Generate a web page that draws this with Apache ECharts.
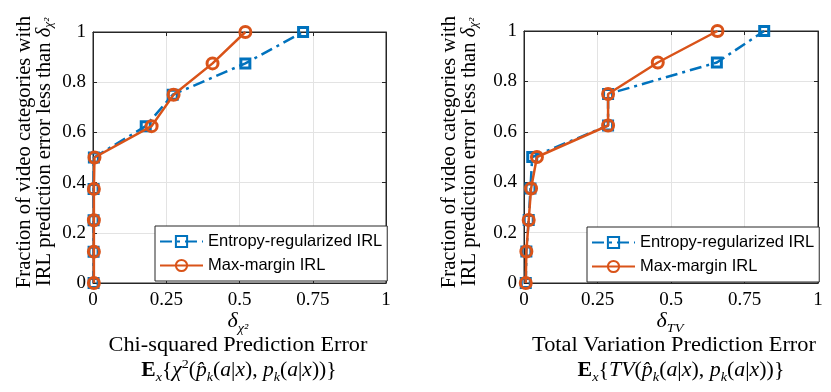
<!DOCTYPE html>
<html>
<head>
<meta charset="utf-8">
<script src="https://cdn.jsdelivr.net/npm/echarts@6/dist/echarts.min.js"></script>
<style>
  html, body { margin: 0; padding: 0; background: #fff; }
  #main { width: 831px; height: 392px; }
</style>
</head>
<body>
<div id="main"></div>
<script>
// fraction levels (y) shared by both panels
const fractions = [0, 0.125, 0.25, 0.375, 0.5, 0.625, 0.75, 0.875, 1];
// chi-squared panel: error thresholds (x)
const chiEntropy = [0.002, 0.002, 0.002, 0.002, 0.003, 0.18, 0.272, 0.52, 0.717];
const chiMargin  = [0.003, 0.003, 0.003, 0.003, 0.005, 0.2, 0.275, 0.408, 0.52];
// total variation panel
const tvEntropy = [0.006, 0.008, 0.016, 0.022, 0.028, 0.286, 0.286, 0.656, 0.817];
const tvMargin  = [0.006, 0.008, 0.016, 0.024, 0.044, 0.286, 0.286, 0.455, 0.658];
// ticks
const xTicks = [0, 0.25, 0.5, 0.75, 1];
const yTicks = [0, 0.2, 0.4, 0.6, 0.8, 1];
const seriesNames = ['Entropy-regularized IRL', 'Max-margin IRL'];

const BLUE = '#0072BD', ORANGE = '#D95319', AX = '#262626';
const SERIF = "'Liberation Serif', serif";

const pairs = (xs) => xs.map((x, i) => [x, fractions[i]]);

const myChart = echarts.init(document.getElementById('main'), null, { renderer: 'canvas' });

function xAx(grid, pos) {
  return {
    type: 'value', gridIndex: grid, position: pos,
    min: xTicks[0], max: xTicks[xTicks.length - 1], interval: xTicks[1] - xTicks[0],
    axisLine: { show: true, onZero: false, lineStyle: { color: AX, width: 1 } },
    axisTick: { show: true, inside: true, length: 4, lineStyle: { color: AX } },
    axisLabel: { show: pos === 'bottom', margin: 8, color: '#000', fontFamily: SERIF, fontSize: 19 },
    splitLine: { show: pos === 'bottom', lineStyle: { color: '#e3e3e3', width: 1 } }
  };
}
function yAx(grid, pos) {
  return {
    type: 'value', gridIndex: grid, position: pos,
    min: yTicks[0], max: yTicks[yTicks.length - 1], interval: yTicks[1] - yTicks[0],
    axisLine: { show: true, onZero: false, lineStyle: { color: AX, width: 1 } },
    axisTick: { show: true, inside: true, length: 4, lineStyle: { color: AX } },
    axisLabel: { show: pos === 'left', margin: 7, color: '#000', fontFamily: SERIF, fontSize: 19 },
    splitLine: { show: pos === 'left', lineStyle: { color: '#e3e3e3', width: 1 } }
  };
}
function lineSeries(name, data, idx, color, dashed, symbol, size) {
  return {
    name: name, type: 'line', data: data,
    xAxisIndex: idx * 2, yAxisIndex: idx * 2,
    symbol: symbol, symbolSize: size, showSymbol: true,
    lineStyle: { color: color, width: 2.5, type: dashed ? [12, 5, 3, 5] : 'solid' },
    itemStyle: { color: 'rgba(255,255,255,0)', borderColor: color, borderWidth: 3 },
    z: dashed ? 2 : 3
  };
}

const rich = {
  rm: { fontFamily: SERIF, fontSize: 20, lineHeight: 26, color: '#000' },
  it: { fontFamily: SERIF, fontStyle: 'italic', fontSize: 20, lineHeight: 26, color: '#000' },
  bf: { fontFamily: SERIF, fontWeight: 'bold', fontSize: 20, lineHeight: 26, color: '#000' },
  sub: { fontFamily: SERIF, fontStyle: 'italic', fontSize: 13, lineHeight: 15, verticalAlign: 'bottom', color: '#000' },
  sup: { fontFamily: SERIF, fontSize: 13, lineHeight: 15, verticalAlign: 'top', color: '#000' }
};
const yRich = {
  it: { fontFamily: SERIF, fontStyle: 'italic', fontSize: 20, lineHeight: 20, color: '#000' },
  sub: { fontFamily: SERIF, fontStyle: 'italic', fontSize: 13, lineHeight: 12, verticalAlign: 'bottom', color: '#000' }
};
function txt(x, y, text, sx, extra) {
  return Object.assign({
    type: 'text', x: x, y: y, scaleX: sx,
    style: { text: text, rich: rich, fontFamily: SERIF, fontSize: 20, lineHeight: 26,
      fill: '#000', align: 'center', verticalAlign: 'middle' }
  }, extra || {});
}
const yName = 'Fraction of video categories with\nIRL prediction error less than {it|δ}{sub|χ²}';
function yLabel(x) {
  return {
    type: 'text', x: x, y: 152, scaleX: 1.03, rotation: Math.PI / 2,
    style: { text: yName, rich: yRich, fontFamily: SERIF, fontSize: 20, lineHeight: 20,
      fill: '#000', align: 'center', verticalAlign: 'middle' }
  };
}

const legendBase = {
  orient: 'vertical', itemWidth: 43, itemHeight: 14, itemGap: 7,
  padding: [7, 5, 7, 4], backgroundColor: '#fff', borderColor: AX, borderWidth: 1,
  textStyle: { fontFamily: "'Liberation Sans', Arial, sans-serif", fontSize: 16.5, color: '#000' },
  data: seriesNames
};

const option = {
  animation: false,
  backgroundColor: '#fff',
  grid: [
    { left: 93, top: 32, width: 293, height: 251, show: true, borderColor: AX, borderWidth: 1 },
    { left: 524, top: 31, width: 294, height: 252, show: true, borderColor: AX, borderWidth: 1 }
  ],
  xAxis: [xAx(0, 'bottom'), xAx(0, 'top'), xAx(1, 'bottom'), xAx(1, 'top')],
  yAxis: [yAx(0, 'left'), yAx(0, 'right'), yAx(1, 'left'), yAx(1, 'right')],
  legend: [
    Object.assign({ left: 155, top: 226 }, legendBase),
    Object.assign({ left: 587, top: 227 }, legendBase)
  ],
  series: [
    lineSeries(seriesNames[0], pairs(chiEntropy), 0, BLUE, true, 'rect', 9),
    lineSeries(seriesNames[1], pairs(chiMargin), 0, ORANGE, false, 'circle', 11),
    lineSeries(seriesNames[0], pairs(tvEntropy), 1, BLUE, true, 'rect', 9),
    lineSeries(seriesNames[1], pairs(tvMargin), 1, ORANGE, false, 'circle', 11)
  ],
  graphic: [
    yLabel(35),
    yLabel(460),
    txt(238, 322, '{it|δ}{sub|χ²}', 1.1),
    txt(238, 346, 'Chi-squared Prediction Error', 1.115),
    txt(239, 371, '{bf|E}{sub|x}{rm|{}{it|χ}{sup|2}{rm|(}{it|p̂}{sub|k}{rm|(}{it|a}{rm||}{it|x}{rm|), }{it|p}{sub|k}{rm|(}{it|a}{rm||}{it|x}{rm|))}}', 1.08),
    txt(670, 322, '{it|δ}{sub|TV}', 1.1),
    txt(674, 346, 'Total Variation Prediction Error', 1.12),
    txt(681, 371, '{bf|E}{sub|x}{rm|{}{it|TV}{rm|(}{it|p̂}{sub|k}{rm|(}{it|a}{rm||}{it|x}{rm|), }{it|p}{sub|k}{rm|(}{it|a}{rm||}{it|x}{rm|))}}', 1.095)
  ]
};

option && myChart.setOption(option);
</script>
</body>
</html>
